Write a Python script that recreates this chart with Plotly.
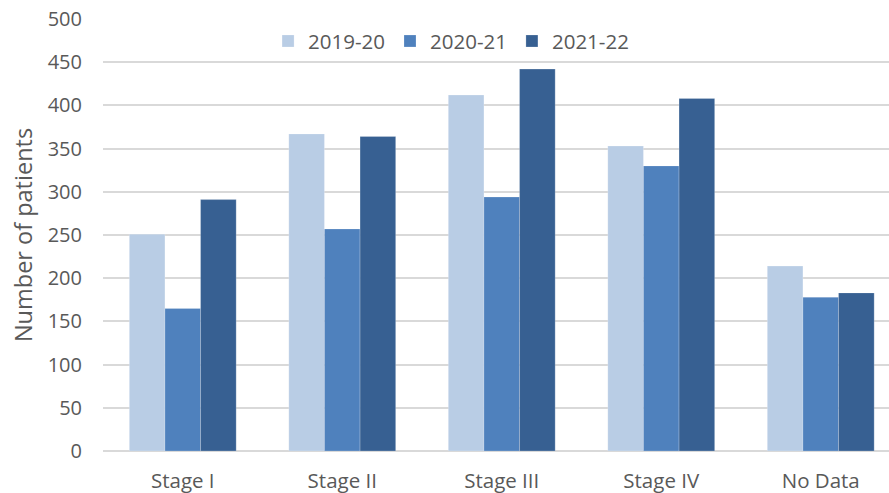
import plotly.graph_objects as go

# Patient counts by cancer stage, three financial years
stages = ["Stage I", "Stage II", "Stage III", "Stage IV", "No Data"]
years = ["2019-20", "2020-21", "2021-22"]
counts_2019_20 = [251, 367, 412, 353, 214]
counts_2020_21 = [165, 257, 294, 330, 178]
counts_2021_22 = [291, 364, 442, 408, 183]
y_ticks = [0, 50, 100, 150, 200, 250, 300, 350, 400, 450, 500]

series = [counts_2019_20, counts_2020_21, counts_2021_22]
colors = ["#B9CDE5", "#4F81BD", "#376092"]

FONT = "Open Sans"
GREY = "#595959"

fig = go.Figure()
for name, vals, col in zip(years, series, colors):
    fig.add_trace(go.Bar(
        x=stages, y=vals, name=name,
        marker=dict(color=col, line=dict(color="rgba(255,255,255,0.35)", width=0.6)),
    ))

fig.update_layout(
    width=889, height=493,
    margin=dict(l=103, r=0, t=19, b=42),
    paper_bgcolor="white", plot_bgcolor="white",
    barmode="group", bargap=0.33, bargroupgap=0,
    font=dict(family=FONT, size=20, color=GREY),
    showlegend=True,
    legend=dict(
        orientation="h", x=0.21, y=0.995, xanchor="left", yanchor="top",
        bgcolor="rgba(0,0,0,0)", font=dict(family=FONT, size=20.5, color=GREY),
        itemwidth=30, traceorder="normal",
    ),
    xaxis=dict(
        range=[-0.5, 4.428], showgrid=False, zeroline=False,
        showline=False, ticks="", ticklabelstandoff=15, automargin=False,
        tickfont=dict(family=FONT, size=20.5, color=GREY),
    ),
    yaxis=dict(
        range=[0, 500], tickvals=y_ticks, showgrid=True,
        gridcolor="#D9D9D9", gridwidth=1.5, zeroline=True,
        zerolinecolor="#D9D9D9", zerolinewidth=1.5,
        showline=False, ticks="", ticklabelstandoff=20,
        tickfont=dict(family=FONT, size=20, color=GREY),
        title=dict(text="Number of patients", standoff=8,
                   font=dict(family=FONT, size=23.5, color=GREY)),
    ),
)

fig.write_html("out.html")
